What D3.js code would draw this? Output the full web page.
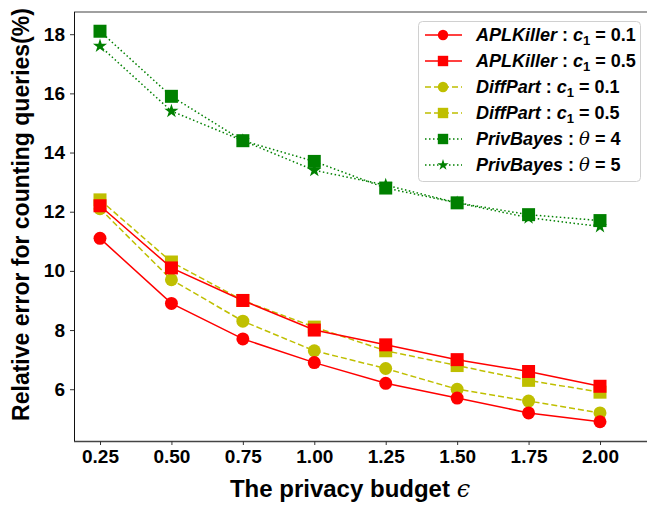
<!DOCTYPE html>
<html>
<head>
<meta charset="utf-8">
<script src="https://cdn.jsdelivr.net/npm/d3@7"></script>
<style>
  body { margin: 0; background: #fff; }
  svg { display: block; font-family: "Liberation Sans", Arial, sans-serif; }
</style>
</head>
<body>
<svg id="chart" width="647" height="506"></svg>
<script>
const budgets = [0.25, 0.5, 0.75, 1.0, 1.25, 1.5, 1.75, 2.0]
const xTicks = ['0.25', '0.50', '0.75', '1.00', '1.25', '1.50', '1.75', '2.00']
const yTicks = [6, 8, 10, 12, 14, 16, 18]

const aplC01 = [11.1, 8.9, 7.7, 6.9, 6.2, 5.7, 5.2, 4.9]
const aplC05 = [12.2, 10.1, 9.0, 8.0, 7.5, 7.0, 6.6, 6.1]
const diffC01 = [12.1, 9.7, 8.3, 7.3, 6.7, 6.0, 5.6, 5.2]
const diffC05 = [12.4, 10.3, 9.0, 8.1, 7.3, 6.8, 6.3, 5.9]
const privT4 = [18.1, 15.9, 14.4, 13.7, 12.8, 12.3, 11.9, 11.7]
const privT5 = [17.6, 15.4, 14.4, 13.4, 12.9, 12.3, 11.8, 11.5]

// legend order
const series = [
    {name: 'APLKiller', param: 'c', val: '0.1', values: aplC01, color: '#ff0000', dash: null, marker: 'circle'},
    {name: 'APLKiller', param: 'c', val: '0.5', values: aplC05, color: '#ff0000', dash: null, marker: 'square'},
    {name: 'DiffPart', param: 'c', val: '0.1', values: diffC01, color: '#bfbf00', dash: '6,3', marker: 'circle'},
    {name: 'DiffPart', param: 'c', val: '0.5', values: diffC05, color: '#bfbf00', dash: '6,3', marker: 'square'},
    {name: 'PrivBayes', param: 'theta', val: '4', values: privT4, color: '#008000', dash: '1.5,2.5', marker: 'square'},
    {name: 'PrivBayes', param: 'theta', val: '5', values: privT5, color: '#008000', dash: '1.5,2.5', marker: 'star'}
]
// draw order: green, yellow, red on top
const drawOrder = [5, 4, 2, 3, 0, 1]

const svg = d3.select('#chart')
const pLeft = 74, pRight = 647, pTop = 12, pBottom = 441

const x = d3.scaleLinear().domain([0.159, 2.1645]).range([pLeft, pRight])
const y = d3.scaleLinear().domain([4.25, 18.75]).range([pBottom, pTop])

const markerPath = (type, k) => {
    if (type === 'circle') return d3.symbol(d3.symbolCircle, 132 * k * k)()
    if (type === 'square') return d3.symbol(d3.symbolSquare, 169 * k * k)()
    return d3.symbol(d3.symbolStar, 62 * k * k)()
}

// frame
svg.append('line').attr('x1', pLeft).attr('x2', pRight).attr('y1', pTop).attr('y2', pTop)
    .attr('stroke', '#808080').attr('stroke-width', 1.6)

const line = d3.line().x((d, i) => x(budgets[i])).y(d => y(d))
const plot = svg.append('g')

drawOrder.forEach(i => {
    const s = series[i]
    plot.append('path')
        .attr('d', line(s.values))
        .attr('fill', 'none')
        .attr('stroke', s.color)
        .attr('stroke-width', 1.5)
        .attr('stroke-dasharray', s.dash)
    plot.selectAll(null)
        .data(s.values)
        .enter()
        .append('path')
        .attr('d', markerPath(s.marker, 1))
        .attr('transform', (d, j) => `translate(${x(budgets[j])},${y(d)})`)
        .attr('fill', s.color)
})

// axes
const xAxis = svg.append('g')
    .attr('transform', `translate(0,${pBottom})`)
    .call(d3.axisBottom(x).tickValues(budgets).tickFormat((d, i) => xTicks[i]).tickSize(4).tickPadding(5))
const yAxis = svg.append('g')
    .attr('transform', `translate(${pLeft},0)`)
    .call(d3.axisLeft(y).tickValues(yTicks).tickSize(4).tickPadding(5))

xAxis.select('.domain').attr('d', `M${pLeft},0.5H${pRight}`).attr('stroke', '#444').attr('stroke-width', 1.3)
yAxis.select('.domain').attr('d', `M0.5,${pTop}V${pBottom}`).attr('stroke', '#111')
svg.selectAll('.tick line').attr('stroke', '#333')
svg.selectAll('.tick text')
    .attr('font-family', '"Liberation Sans", Arial, sans-serif')
    .attr('font-size', 19)
    .attr('font-weight', 'bold')
    .attr('fill', '#000')

// axis titles
svg.append('text')
    .attr('x', 350).attr('y', 497)
    .attr('text-anchor', 'middle')
    .attr('font-size', 24).attr('font-weight', 'bold')
    .text('The privacy budget ')
    .append('tspan').attr('font-family', '"DejaVu Serif", serif').attr('font-style', 'italic')
    .attr('font-weight', 'normal').text('ϵ')

svg.append('text')
    .attr('transform', `translate(29,${(pTop + pBottom) / 2 - 12}) rotate(-90)`)
    .attr('text-anchor', 'middle')
    .attr('font-size', 23).attr('font-weight', 'bold')
    .text('Relative error for counting queries(%)')

// legend
const legend = svg.append('g')
legend.append('rect')
    .attr('x', 418.5).attr('y', 21.5).attr('width', 222).attr('height', 160)
    .attr('rx', 4)
    .attr('fill', '#fff').attr('fill-opacity', 0.85)
    .attr('stroke', '#d0d0d0')

series.forEach((s, i) => {
    const ly = 35 + i * 26
    const g = legend.append('g').attr('transform', `translate(0,${ly})`)
    g.append('line').attr('x1', 425).attr('x2', 462).attr('y1', 0).attr('y2', 0)
        .attr('stroke', s.color).attr('stroke-width', 1.5).attr('stroke-dasharray', s.dash)
    g.append('path').attr('d', markerPath(s.marker, 0.8))
        .attr('transform', 'translate(443,0)').attr('fill', s.color)

    const t = g.append('text').attr('x', 476).attr('y', 6)
        .attr('font-size', 18).attr('font-weight', 'bold')
    t.append('tspan').attr('font-style', 'italic').text(s.name)
    t.append('tspan').text(' : ')
    if (s.param === 'c') {
        t.append('tspan').attr('font-style', 'italic').text('c')
        t.append('tspan').attr('font-size', 13).attr('dy', 4).text('1')
        t.append('tspan').attr('dy', -4).text(' = ' + s.val)
    } else {
        t.append('tspan').attr('font-family', '"DejaVu Serif", serif').attr('font-style', 'italic')
            .attr('font-weight', 'normal').text('θ')
        t.append('tspan').text(' = ' + s.val)
    }
})
</script>
</body>
</html>
